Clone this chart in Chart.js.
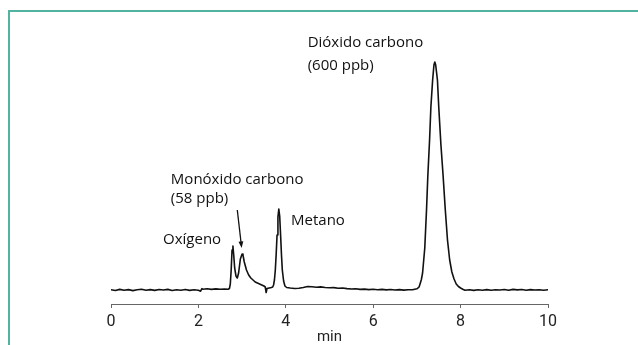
<!DOCTYPE html>
<html>
<head>
<meta charset="utf-8">
<script src="https://cdn.jsdelivr.net/npm/chart.js@4.4.1/dist/chart.umd.min.js"></script>
<style>
  html, body { margin: 0; padding: 0; background: #fff; }
  #frame { position: absolute; left: 8px; top: 10px; right: 0; bottom: 0;
           border-top: 2px solid #52b3a0; border-left: 2px solid #52b3a0; }
  #chart { position: absolute; left: 0; top: 0; }
</style>
</head>
<body>
<div id="frame"></div>
<canvas id="chart" width="638" height="345"></canvas>
<script>
// retention time (min) and detector signal (arbitrary units, baseline ~0)
const times = [
  0.0, 0.1, 0.2, 0.3, 0.4, 0.5, 0.6, 0.7, 0.8, 0.9,
  1.0, 1.1, 1.2, 1.3, 1.4, 1.5, 1.6, 1.7, 1.8, 1.9,
  2.0, 2.05, 2.08, 2.1, 2.2, 2.3, 2.4, 2.5, 2.6, 2.68,
  2.71, 2.73, 2.75, 2.77, 2.79, 2.81, 2.83, 2.86, 2.89, 2.92,
  2.96, 3.0, 3.02, 3.05, 3.1, 3.15, 3.2, 3.25, 3.3, 3.35,
  3.4, 3.45, 3.5, 3.53, 3.55, 3.57, 3.62, 3.67, 3.7, 3.72,
  3.74, 3.76, 3.78, 3.8, 3.82, 3.84, 3.86, 3.88, 3.9, 3.92,
  3.95, 3.98, 4.02, 4.1, 4.2, 4.3, 4.4, 4.5, 4.6, 4.7,
  4.8, 4.9, 5.0, 5.1, 5.2, 5.3, 5.4, 5.5, 5.6, 5.7,
  5.8, 5.9, 6.0, 6.1, 6.2, 6.3, 6.4, 6.5, 6.6, 6.7,
  6.8, 6.9, 6.95, 7.0, 7.05, 7.1, 7.13, 7.18, 7.22, 7.25,
  7.29, 7.32, 7.36, 7.39, 7.41, 7.43, 7.47, 7.5, 7.55, 7.6,
  7.65, 7.7, 7.75, 7.8, 7.85, 7.9, 7.95, 8.0, 8.05, 8.1,
  8.2, 8.3, 8.4, 8.5, 8.6, 8.7, 8.8, 8.9, 9.0, 9.1,
  9.2, 9.3, 9.4, 9.5, 9.6, 9.7, 9.8, 9.9, 10.0
];
const signal = [
  0.3, -0.5, 0.6, -0.2, 0.4, -0.6, 0.2, 0.7, -0.3, 0.4,
  -0.4, 0.5, 0.0, 0.6, -0.5, 0.3, -0.2, 0.5, -0.4, 0.2,
  -0.3, -1.2, 1.4, 0.8, 1.2, 0.6, 1.1, 0.7, 1.0, 0.8,
  1.5, 6, 20, 40, 44, 34, 22, 14, 12, 17,
  31, 36, 35, 28, 20, 15, 12, 10, 8, 7,
  6, 5, 4, 3, -2.5, 1.5, 2, 2.5, 3, 5,
  10, 20, 36, 55, 73, 81, 74, 56, 36, 20,
  9, 4, 2.5, 2, 1.5, 1.8, 2.5, 3.5, 3.2, 2.8,
  3.1, 2.5, 2.2, 2.4, 1.8, 2.0, 1.4, 1.0, 1.2, 0.6,
  0.9, 0.4, 0.7, 0.2, 0.6, 0.1, 0.5, 0.0, 0.4, -0.1,
  0.3, 0.2, 0.8, 1.2, 3, 10, 17, 42, 80, 114,
  150, 183, 210, 225, 228, 225, 210, 183, 145, 114,
  80, 50, 30, 18, 11, 6, 3.5, 2, 0.8, -0.2,
  0.3, -0.4, 0.2, -0.3, 0.4, -0.2, 0.3, 0.0, 0.5, -0.3,
  0.6, 0.1, 0.5, -0.2, 0.4, 0.0, 0.3, -0.3, 0.2
];
const tickValues = [0, 2, 4, 6, 8, 10];
const axisTitle = 'min';

// peak annotations, anchored in data coordinates (min, signal)
const peakLabels = [
  { text: 'Dióxido carbono', t: 4.5, h: 243 },
  { text: '(600 ppb)', t: 4.5, h: 220.5 },
  { text: 'Monóxido carbono', t: 1.37, h: 106 },
  { text: '(58 ppb)', t: 1.37, h: 87 },
  { text: 'Oxígeno', t: 1.19, h: 46 },
  { text: 'Metano', t: 4.12, h: 65 }
];
const coArrow = { from: [2.89, 80], to: [2.99, 42] };

const points = times.map((t, i) => ({ x: t, y: signal[i] }));

const labelPlugin = {
  id: 'peakLabels',
  afterDatasetsDraw(chart) {
    const { ctx, scales: { x, y } } = chart;
    ctx.save();
    ctx.fillStyle = '#111';
    ctx.font = '15px "Open Sans"';
    ctx.textAlign = 'left';
    ctx.textBaseline = 'alphabetic';
    peakLabels.forEach(l => {
      ctx.fillText(l.text, x.getPixelForValue(l.t), y.getPixelForValue(l.h));
    });
    // arrow pointing at the CO peak
    const x1 = x.getPixelForValue(coArrow.from[0]), y1 = y.getPixelForValue(coArrow.from[1]);
    const x2 = x.getPixelForValue(coArrow.to[0]), y2 = y.getPixelForValue(coArrow.to[1]);
    const ang = Math.atan2(y2 - y1, x2 - x1);
    ctx.strokeStyle = '#111';
    ctx.lineWidth = 1.3;
    ctx.beginPath();
    ctx.moveTo(x1, y1);
    ctx.lineTo(x2 - 4 * Math.cos(ang), y2 - 4 * Math.sin(ang));
    ctx.stroke();
    ctx.beginPath();
    ctx.moveTo(x2, y2);
    ctx.lineTo(x2 - 7 * Math.cos(ang - 0.35), y2 - 7 * Math.sin(ang - 0.35));
    ctx.lineTo(x2 - 7 * Math.cos(ang + 0.35), y2 - 7 * Math.sin(ang + 0.35));
    ctx.closePath();
    ctx.fill();
    ctx.restore();
  }
};

new Chart(document.getElementById('chart'), {
  type: 'line',
  data: {
    datasets: [{
      data: points,
      borderColor: '#111',
      borderWidth: 1.6,
      borderJoinStyle: 'round',
      borderCapStyle: 'round',
      pointRadius: 0,
      tension: 0,
      fill: false
    }]
  },
  options: {
    responsive: false,
    animation: false,
    devicePixelRatio: 1,
    layout: { padding: { left: 111, right: 90, top: 40, bottom: 0 } },
    plugins: { legend: { display: false }, tooltip: { enabled: false } },
    scales: {
      x: {
        type: 'linear',
        min: 0,
        max: 10,
        afterFit: (scale) => { scale.height = 41; },
        afterBuildTicks: (scale) => { scale.ticks = tickValues.map(v => ({ value: v })); },
        grid: { drawOnChartArea: false, drawTicks: true, tickLength: 4, color: '#666' },
        border: { display: true, color: '#666', width: 1 },
        ticks: { color: '#222', padding: 4, font: { family: 'Roboto', size: 16 } },
        title: {
          display: true,
          text: axisTitle,
          color: '#222',
          padding: { top: 0, bottom: -1 },
          font: { family: 'Roboto', size: 15 }
        }
      },
      y: { display: false, min: -14, max: 250 }
    }
  },
  plugins: [labelPlugin]
});
</script>
</body>
</html>
